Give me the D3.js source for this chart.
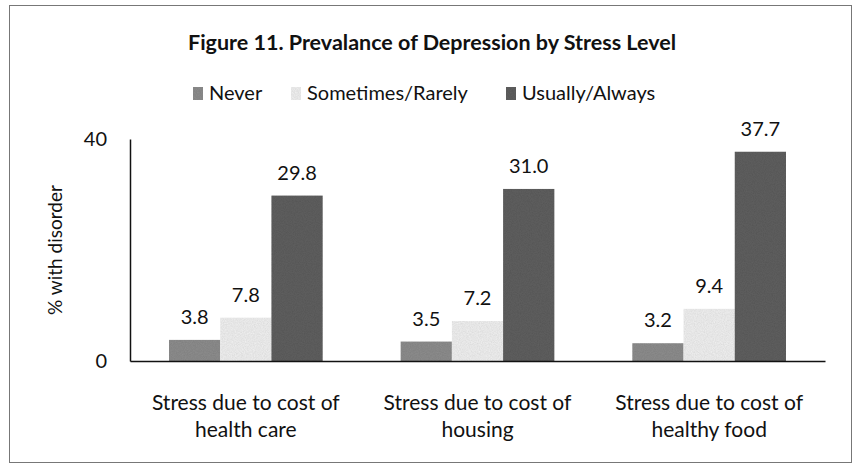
<!DOCTYPE html>
<html>
<head>
<meta charset="utf-8">
<script src="https://cdn.jsdelivr.net/npm/d3@7"></script>
<style>
	body { margin: 0; background: #fff; }
	svg text { font-family: Lato, "Open Sans", sans-serif; fill: #111; }
</style>
</head>
<body>
<svg id="chart" width="853" height="467"></svg>
<script>
var categories = [
	["Stress due to cost of", "health care"],
	["Stress due to cost of", "housing"],
	["Stress due to cost of", "healthy food"]
];
var seriesNames = ["Never", "Sometimes/Rarely", "Usually/Always"];
var never = [3.8, 3.5, 3.2];
var sometimes = [7.8, 7.2, 9.4];
var usually = [29.8, 31.0, 37.7];
var yTicks = [0, 40];

var colors = ["#8e8e8e", "#f2f2f2", "#606060"];

var svg = d3.select("#chart");
var margin = { top: 139, left: 130, right: 28, bottom: 106 };
var width = 853 - margin.left - margin.right;
var height = 467 - margin.top - margin.bottom;

// grain, the scan has a noisy fill on the bars
var defs = svg.append("defs");
var grain = defs.append("filter").attr("id", "grain")
	.attr("x", 0).attr("y", 0).attr("width", 1).attr("height", 1);
grain.append("feTurbulence")
	.attr("type", "fractalNoise")
	.attr("baseFrequency", 0.9)
	.attr("numOctaves", 2)
	.attr("seed", 3)
	.attr("result", "noise");
grain.append("feColorMatrix")
	.attr("in", "noise")
	.attr("type", "matrix")
	.attr("values", "0 0 0 0 0  0 0 0 0 0  0 0 0 0 0  0 0 0 0.22 0")
	.attr("result", "dark");
grain.append("feComposite")
	.attr("in", "dark").attr("in2", "SourceGraphic")
	.attr("operator", "in").attr("result", "dk");
grain.append("feMerge").selectAll("feMergeNode")
	.data(["SourceGraphic", "dk"])
	.enter().append("feMergeNode").attr("in", function(d) { return d; });

// outer frame
svg.append("rect")
	.attr("x", 9.5).attr("y", 5.5)
	.attr("width", 842).attr("height", 457)
	.attr("fill", "none")
	.attr("stroke", "#777")
	.attr("stroke-width", 1);

svg.append("text")
	.attr("x", 432).attr("y", 50)
	.attr("text-anchor", "middle")
	.attr("font-size", "21.5px")
	.attr("font-weight", "bold")
	.text("Figure 11. Prevalance of Depression by Stress Level");

var data = categories.map(function(c, i) {
	return { cat: i, vals: [never[i], sometimes[i], usually[i]] };
});

var x0 = d3.scaleBand()
	.domain(d3.range(categories.length))
	.range([0, width]);

var x1 = d3.scaleBand()
	.domain(d3.range(seriesNames.length))
	.range([39, x0.bandwidth() - 39]);

var y = d3.scaleLinear()
	.domain([0, 40])
	.range([height, 0]);

var g = svg.append("g")
	.attr("transform", "translate(" + margin.left + "," + margin.top + ")");

var groups = g.selectAll(".grp")
	.data(data)
	.enter().append("g")
		.attr("class", "grp")
		.attr("transform", function(d) { return "translate(" + x0(d.cat) + ",0)"; });

groups.selectAll("rect")
	.data(function(d) { return d.vals; })
	.enter().append("rect")
		.attr("x", function(d, i) { return x1(i); })
		.attr("width", x1.bandwidth())
		.attr("y", function(d) { return y(d); })
		.attr("height", function(d) { return y(0) - y(d); })
		.attr("fill", function(d, i) { return colors[i]; })
		.attr("filter", "url(#grain)");

groups.selectAll(".val")
	.data(function(d) { return d.vals; })
	.enter().append("text")
		.attr("class", "val")
		.attr("text-anchor", "middle")
		.attr("font-size", "20px")
		.attr("x", function(d, i) { return x1(i) + x1.bandwidth() / 2; })
		.attr("y", function(d) { return y(d) - 16; })
		.text(function(d) { return d.toFixed(1); });

// y axis
var yAxis = g.append("g")
	.call(d3.axisLeft(y).tickValues(yTicks).tickSize(0).tickPadding(23));
yAxis.select(".domain").attr("stroke", "#111").attr("stroke-width", 1.5);
yAxis.selectAll("text").attr("font-size", "20px").attr("font-family", "Lato, sans-serif").attr("fill", "#111");

// x axis
var xAxis = g.append("g")
	.attr("transform", "translate(0," + height + ")")
	.call(d3.axisBottom(x0).tickSize(0).tickFormat(""));
xAxis.select(".domain").attr("stroke", "#111").attr("stroke-width", 1.5);

xAxis.selectAll(".tick").each(function(d) {
	var t = d3.select(this).append("text")
		.attr("text-anchor", "middle")
		.attr("font-size", "21px")
		.attr("font-family", "Lato, sans-serif")
		.attr("fill", "#111");
	categories[d].forEach(function(line, k) {
		t.append("tspan").attr("x", 0).attr("y", 49 + k * 27).text(line);
	});
});

svg.append("text")
	.attr("transform", "translate(62," + (margin.top + height / 2) + ") rotate(-90)")
	.attr("text-anchor", "middle")
	.attr("font-size", "19px")
	.text("% with disorder");

// legend
var legendX = [193, 291, 506];
var leg = svg.append("g").selectAll("g")
	.data(seriesNames)
	.enter().append("g")
		.attr("transform", function(d, i) { return "translate(" + legendX[i] + ",100)"; });
leg.append("rect")
	.attr("x", 0).attr("y", -13)
	.attr("width", 10).attr("height", 13)
	.attr("fill", function(d, i) { return colors[i]; })
	.attr("filter", "url(#grain)");
leg.append("text")
	.attr("x", 16).attr("y", 0)
	.attr("font-size", "20px")
	.text(function(d) { return d; });
</script>
</body>
</html>
